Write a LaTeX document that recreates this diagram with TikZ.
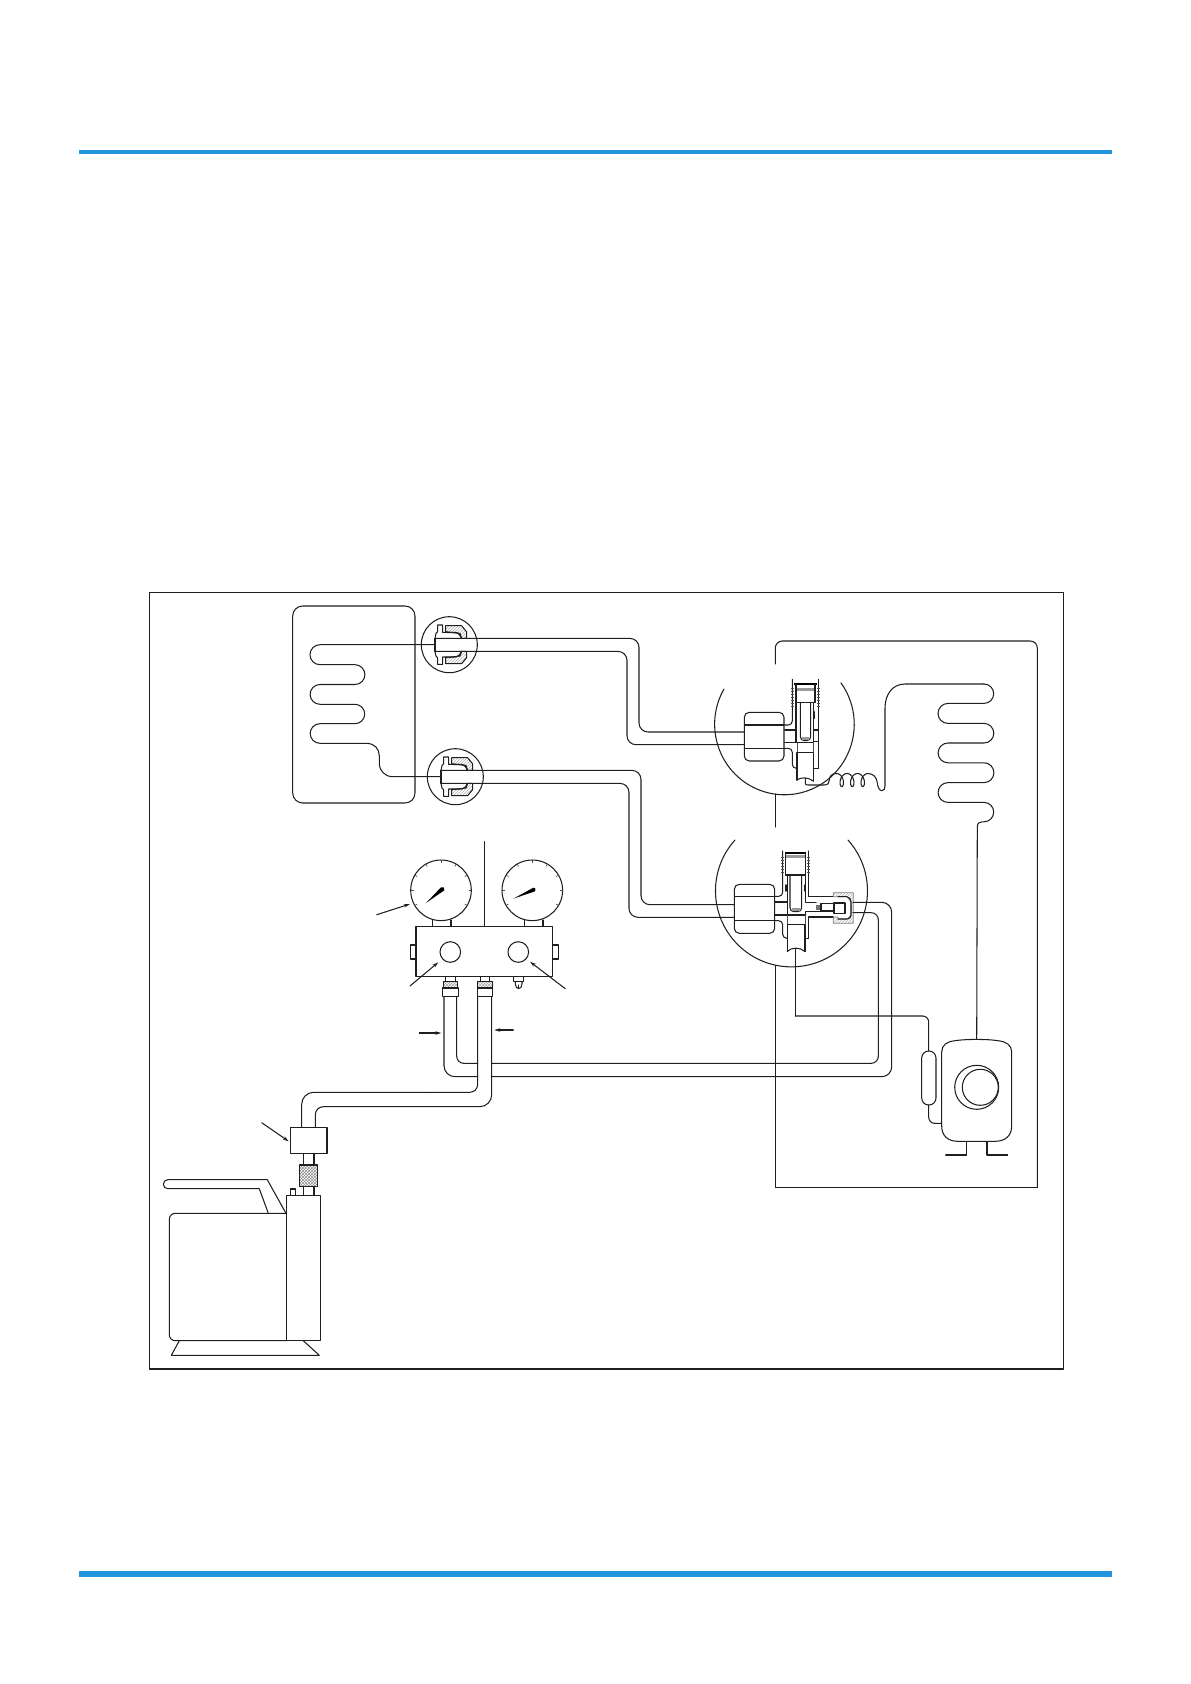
\documentclass[tikz,border=0pt]{standalone}
\usetikzlibrary{patterns,arrows.meta}
\definecolor{barblue}{RGB}{33,150,220}
\tikzset{
  ln/.style={line width=1.05pt,draw=black!88,line cap=round,line join=round},
  thin ln/.style={line width=0.7pt,draw=black!70},
  thick ln/.style={line width=1.7pt,draw=black},
  arr/.style={ln,-{Stealth[length=6pt,width=3.5pt]}},
  flarefit/.pic={
    \draw[ln,pattern=north east lines,pattern color=black!30] (-3.7,-19) -- (12.3,-19) -- (17.3,-13) -- (17.3,-6.3) -- (12.3,-6.3) -- (10.7,-11.3) -- (-3.7,-13) -- cycle;
    \draw[ln,pattern=north east lines,pattern color=black!30] (-3.7,19) -- (12.3,19) -- (17.3,13) -- (17.3,6.7) -- (12.3,6.7) -- (10.7,11.3) -- (-3.7,13) -- cycle;
    \draw[ln] (-14.3,-6.3) -- (-13.3,-11.3) -- (-11.7,-13) -- (-11.7,-19.7) -- (-6.7,-19.7) -- (-6.7,-12.3) -- (-2.7,-12.3);
    \draw[ln] (-14.3,6.7) -- (-13.3,11.3) -- (-11.7,13) -- (-11.7,19.7) -- (-6.7,19.7) -- (-6.7,12.3) -- (-2.7,12.3);
    \draw[ln,line width=1.3pt] (-2.7,-12.3) -- (5,-12.3) .. controls (9,-12.3) and (11,-10) .. (12,-6.3);
    \draw[ln,line width=1.3pt] (-2.7,12.3) -- (5,12.3) .. controls (9,12.3) and (11,10) .. (12,6.7);
    \draw[ln] (-14.3,-6.3) -- (-14.3,6.7);
    \draw[ln] (0,0) circle[radius=28];
  }
}
\begin{document}
\begin{tikzpicture}[x=1pt,y=-1pt]
\useasboundingbox (0,0) rectangle (1191,1684);
% page bars
\fill[barblue] (79,150) rectangle (1112,154);
\fill[barblue] (79,1570.5) rectangle (1112,1577);
% frame
\draw[ln] (149.5,592.7) rectangle (1063.5,1369);

% indoor unit
\draw[ln,rounded corners=10] (292.7,606) rectangle (415,803);
\draw[ln] (435,644.7) -- (320,644.7) arc[start angle=-90,end angle=-270,radius=10]
  -- (355,664.7) arc[start angle=-90,end angle=90,radius=9.9]
  -- (320,684.5) arc[start angle=-90,end angle=-270,radius=9.9]
  -- (355,704.3) arc[start angle=-90,end angle=90,radius=9.7]
  -- (320,723.7) arc[start angle=-90,end angle=-270,radius=9.8]
  -- (366,743.3) .. controls (375,743.3) and (379.3,749) .. (379.3,756)
  -- (379.3,763) .. controls (379.3,771) and (385,776.7) .. (393,776.7) -- (441,776.7);
\pic at (449.3,644.7) {flarefit};
\pic at (455.3,776.7) {flarefit};

% liquid and gas pipes between units
\draw[ln,rounded corners=9] (435,638.4) -- (639,638.4) -- (639,732) -- (744,732);
\draw[ln,rounded corners=9] (435,651.4) -- (627,651.4) -- (627,744.7) -- (744,744.7);
\draw[ln,rounded corners=9] (441,770.4) -- (641,770.4) -- (641,904.7) -- (734.3,904.7);
\draw[ln,rounded corners=9] (441,783.4) -- (629,783.4) -- (629,917.3) -- (734.3,917.3);

% outdoor casing
\draw[ln,rounded corners=7] (775.3,664) -- (775.3,641) -- (1037.3,641) -- (1037.3,1187.3);
\draw[ln] (1037.3,1187.3) -- (775.3,1187.3) -- (775.3,965.5);
\draw[ln] (775.3,794) -- (775.3,827);

% upper valve circle
\draw[ln] (724,689) arc[start angle=210,end angle=-36,x radius=69.8,y radius=70.5];
% lower valve circle
\draw[ln] (735,840) arc[start angle=222,end angle=-42,radius=76];

% upper valve
\draw[ln,rounded corners=5] (744.3,712.3) rectangle (784,761);
\draw[ln] (744.3,725) -- (784,725);
\draw[ln] (744.3,748.3) -- (784,748.3);
\draw[ln] (784.7,730) -- (796,730);
\draw[ln] (784.7,742.7) -- (796,742.7);
\draw[ln,rounded corners=4] (792.3,679.3) -- (792.3,725) -- (784.5,725);
\draw[ln,rounded corners=4] (784.5,748.3) -- (792.3,748.3) -- (792.3,768.3) -- (796.5,768.3);
\draw[ln] (818.3,679.3) -- (818.3,768.3) -- (813.3,768.3);
\draw[thick ln] (794,684.3) -- (816.7,684.3);
\draw[ln,draw=black!40,line width=3.2pt,line cap=butt] (796,689.8) -- (815,689.8);
\draw[ln] (796,684.3) -- (796,742.7) -- (813.3,742.7);
\draw[ln] (815,684.3) -- (815,702.3);
\draw[ln] (813.3,702.3) -- (813.3,730);
\draw[ln] (796,702.3) -- (815,702.3);
\draw[ln,rounded corners=4] (800.3,702.3) -- (800.3,740.7) -- (810.7,740.7) -- (810.7,702.3);
\fill[black!40] (802,737) rectangle (809,740.3);
\draw[ln,line width=1.6pt] (795.3,711.7) -- (795.3,718.3);
\draw[ln,line width=1.6pt] (813.7,711.7) -- (813.7,718.3);
\draw[ln] (813.3,730) rectangle (818.3,741.7);
\draw[ln,line width=1.5pt] (813.3,730) -- (813.3,741.7);
\foreach \yy in {688,691,694,697,700,703,706} {
  \draw[thin ln] (790.8,\yy) -- (793.8,\yy);
  \draw[thin ln] (816.8,\yy) -- (819.8,\yy);
}
\draw[thin ln] (797,742.7) -- (797,752.3);
\draw[thin ln] (813.3,742.7) -- (813.3,752.3);
\draw[ln,line width=1.6pt] (796.7,780) -- (796.7,752.3) -- (813.3,752.3) -- (813.3,781);
\draw[ln] (796.7,780) .. controls (801,777) and (808,777) .. (813.3,781);

% capillary with spring
\draw[ln] (805.3,778.3) -- (805.3,783) .. controls (805.3,784.5) and (806,785) .. (808,785) -- (824,785)
  .. controls (828,785) and (829.3,783) .. (829.3,780) .. controls (829.5,776) and (832,773.5) .. (836.5,773.5);
\draw[ln,smooth] plot[samples=120,domain=0:18.85,variable=\t] ({836.5+1.67*\t+4*sin(\t r)},{780-6.5*cos(\t r)});
\draw[ln] (868,773.5) .. controls (873,773.5) and (876.7,777) .. (877.3,783)
  .. controls (877.8,788) and (880,790.7) .. (881.7,790.7) .. controls (884,790.7) and (885,789) .. (885,786)
  -- (885,708) .. controls (885,695) and (892,684) .. (905,684) -- (984,684);

% outdoor coil
\draw[ln] (984,684) arc[start angle=-90,end angle=90,radius=9.7]
  -- (948,703.4) arc[start angle=-90,end angle=-270,radius=10]
  -- (984,723.4) arc[start angle=-90,end angle=90,radius=9.8]
  -- (948,743) arc[start angle=-90,end angle=-270,radius=9.9]
  -- (984,762.8) arc[start angle=-90,end angle=90,radius=9.9]
  -- (948,782.6) arc[start angle=-90,end angle=-270,radius=9.9]
  -- (984,802.4) arc[start angle=-90,end angle=90,radius=9.7]
  -- (982,821.8) .. controls (979,821.8) and (977.3,823.5) .. (977.3,827) -- (976.7,1039.3);

% lower valve
\draw[ln,rounded corners=5] (734.3,884.3) rectangle (774.7,933.3);
\draw[ln] (734.3,896.3) -- (774.7,896.3);
\draw[ln] (734.3,920.7) -- (774.7,920.7);
\draw[ln] (775,902) -- (787.3,902);
\draw[ln] (775,915) -- (787.3,915);
\draw[ln,rounded corners=4] (782.7,851) -- (782.7,896.3) -- (775,896.3);
\draw[ln,rounded corners=4] (775,920.7) -- (782.7,920.7) -- (782.7,938.3) -- (787.3,938.3);
\draw[ln] (808.7,851) -- (808.7,896.5) -- (833.3,896.5);
\draw[ln] (833.3,917) -- (808.7,917) -- (808.7,938.3) -- (805,938.3);
\draw[thick ln] (785,853.3) -- (806,853.3);
\draw[ln,draw=black!40,line width=2.5pt,line cap=butt] (786,856.5) -- (805,856.5);
\draw[ln] (785.5,853.3) -- (785.5,875) -- (805.7,875) -- (805.7,853.3);
\draw[ln] (787.3,875) -- (787.3,915) -- (805.7,915);
\draw[ln] (805.7,875) -- (805.7,902.3) -- (816,902.3);
\draw[ln] (805.7,915) -- (805.7,911.5) -- (823,911.5);
\draw[ln,rounded corners=4] (790,876) -- (790,911.7) -- (801.7,911.7) -- (801.7,876);
\fill[black!40] (792,908) rectangle (800,911.3);
\draw[ln,line width=1.6pt] (785.8,885) -- (785.8,891);
\draw[ln,line width=1.6pt] (804.8,885) -- (804.8,891);
\foreach \yy in {857,860,863,866,869,872} {
  \draw[thin ln] (781.2,\yy) -- (784.2,\yy);
  \draw[thin ln] (807.2,\yy) -- (810.2,\yy);
}
\draw[thin ln] (787.3,915) -- (787.3,924);
\draw[thin ln] (805,915) -- (805,924);
\draw[ln] (787.3,951.5) -- (787.3,924.5) -- (805,924.5) -- (805,951.5);
\draw[ln] (787.3,951.5) .. controls (791,947) and (800,947) .. (805,951.5);
\draw[ln] (795.3,948.5) -- (795.3,1016);
% lower valve core
\fill[black!55] (816,904.5) rectangle (821,909.5);
\draw[ln] (821,903.5) rectangle (833.3,911);
\draw[ln,line width=1.3pt] (834,903) rectangle (845,913.5);
\draw[thin ln,draw=black!50,pattern=north east lines,pattern color=black!30] (833.3,892.7) -- (853.3,892.7) -- (853.3,923.3) -- (833.3,923.3) -- (833.3,917) -- (838,917)-- (838,919) -- (847,919) -- (851,915) -- (851,902) -- (847,896.7) -- (838,896.7) -- (833.3,896.7) -- cycle;
\draw[ln] (838,896.7) -- (847,896.7) .. controls (850,897) and (851,900) .. (851,902) -- (851,915) .. controls (851,917) and (850,919) .. (847,919) -- (838,919);

% pipes from lower valve to manifold
\draw[ln,rounded corners=10] (853,902.3) -- (891.7,902.3) -- (891.7,1076.7) -- (491.7,1076.7);
\draw[ln,rounded corners=7] (853,912.7) -- (878.3,912.7) -- (878.3,1063.3) -- (491.7,1063.3);

% suction line to accumulator
\draw[ln,rounded corners=6] (795.3,1016) -- (928.7,1016) -- (928.7,1051);
\draw[ln,rounded corners=6] (928.7,1105) -- (928.7,1123.3) -- (941.7,1123.3);
\draw[ln,rounded corners=7] (921.7,1051) rectangle (936,1105);

% compressor
\draw[ln] (955,1040.7) .. controls (965,1039) and (988,1039) .. (998,1040.7)
  .. controls (1006,1041.5) and (1011.7,1045) .. (1011.7,1052) -- (1011.7,1126)
  .. controls (1011.7,1136) and (1005,1141.3) .. (995,1141.3) -- (958,1141.3)
  .. controls (948,1141.3) and (941.7,1136) .. (941.7,1126) -- (941.7,1052)
  .. controls (941.7,1045) and (947,1041.5) .. (955,1040.7);
\draw[ln] (976.7,1087.3) circle[radius=22];
\draw[ln] (980.3,1087.3) circle[radius=18];
\draw[ln] (966.7,1141.3) -- (966.7,1155) -- (945.7,1155);
\draw[ln] (987,1141.3) -- (987,1155) -- (1007.7,1155);

% manifold
\draw[ln] (441,890.3) circle[radius=30.3];
\draw[ln] (532.3,890.3) circle[radius=30.3];
\foreach \cx in {441,532.3} \foreach \a in {-150,-120,-90,-60,-30,0,30,150,180} {
  \draw[thin ln] ({\cx+27.5*cos(\a)},{890.3+27.5*sin(\a)}) -- ({\cx+30.3*cos(\a)},{890.3+30.3*sin(\a)});
}
\fill[black] (426,903) -- (441,887.3) .. controls (443,885.8) and (445.5,888) .. (444.3,890.3) -- cycle;
\fill[black] (513.3,898.7) -- (533.3,887.7) .. controls (535.5,887) and (536.5,890) .. (535,891.3) -- cycle;
\draw[ln] (432.7,920) -- (432.7,926.7);
\draw[ln] (451,920) -- (451,926.7);
\draw[ln] (524.7,920) -- (524.7,926.7);
\draw[ln] (543,920) -- (543,926.7);
\draw[ln] (416,926.7) rectangle (552.7,976.7);
\draw[ln] (416,945) -- (410.7,945) -- (410.7,959) -- (416,959);
\draw[ln] (552.7,945) -- (558.7,945) -- (558.7,959) -- (552.7,959);
\draw[ln] (450.3,952) circle[radius=10.3];
\draw[ln] (518.3,952) circle[radius=10.3];
\draw[ln] (484.3,841.7) -- (484.3,926.7);
\draw[arr] (376.7,914.7) -- (410,904);
\draw[arr] (410,986) -- (438.3,962.3);
\draw[arr] (565.3,988.7) -- (530,961.7);
\draw[arr] (419.3,1033) -- (441.3,1033);
\draw[arr] (513.3,1030) -- (494.3,1030);
% manifold fittings
\draw[ln] (445.3,976.7) rectangle (455.3,981.3);
\draw[ln,pattern=crosshatch,pattern color=black!35] (443.3,981.3) rectangle (457.3,988);
\draw[ln,line width=1.4pt] (442.7,988) rectangle (458.3,996.7);
\draw[ln] (480.7,976.7) rectangle (489.3,981.3);
\draw[ln,pattern=crosshatch,pattern color=black!35] (477.7,981.3) rectangle (492.3,988);
\draw[ln] (477.7,988) rectangle (492.3,996.7);
\draw[ln] (513.7,976.7) rectangle (523.7,981.3);
\draw[ln] (515.3,981.3) -- (515.3,984) .. controls (515.3,990) and (522,990) .. (522,984) -- (522,981.3);
\draw[ln] (518.7,985) -- (518.7,988);

% hoses
\draw[ln,rounded corners=11] (444,996.7) -- (444,1076.7) -- (477.7,1076.7);
\draw[ln,rounded corners=7] (456.7,996.7) -- (456.7,1063.3) -- (477.7,1063.3);
\draw[ln,rounded corners=8] (477.7,996.7) -- (477.7,1092.3) -- (430,1092.3);
\draw[ln,rounded corners=12] (430,1092.3) -- (301.7,1092.3) -- (301.7,1127.3);
\draw[ln,rounded corners=12] (491.7,996.7) -- (491.7,1106.7) -- (430,1106.7);
\draw[ln,rounded corners=8] (430,1106.7) -- (315.3,1106.7) -- (315.3,1127.3);

% filter and vacuum pump
\draw[ln] (290.7,1127.3) rectangle (327,1153.3);
\draw[arr] (261.7,1122.7) -- (288.7,1141.3);
\draw[ln] (303.7,1153.3) -- (303.7,1165);
\draw[ln] (314,1153.3) -- (314,1165);
\draw[ln] (303.7,1186.7) -- (303.7,1195.3);
\draw[ln] (314,1186.7) -- (314,1195.3);
\draw[ln,pattern=crosshatch,pattern color=black!45] (299.3,1165) rectangle (317.7,1186.7);
\draw[ln] (290.3,1195.3) -- (290.3,1189) -- (295.7,1189) -- (295.7,1195.3);
\draw[ln] (286.7,1195.3) rectangle (320.7,1340.7);
\draw[ln,rounded corners=6] (286.7,1213.3) -- (169.3,1213.3) -- (169.3,1340.7) -- (286.7,1340.7);
\draw[ln] (286,1213.3) -- (267.3,1179.7) -- (167.8,1179.7) arc[start angle=-90,end angle=-270,radius=4.5] -- (259.3,1188.7) -- (268.3,1213.3);
\draw[ln] (179.3,1340.7) -- (171.3,1355.3) -- (319.3,1355.3) -- (303.3,1340.7);
\end{tikzpicture}
\end{document}
